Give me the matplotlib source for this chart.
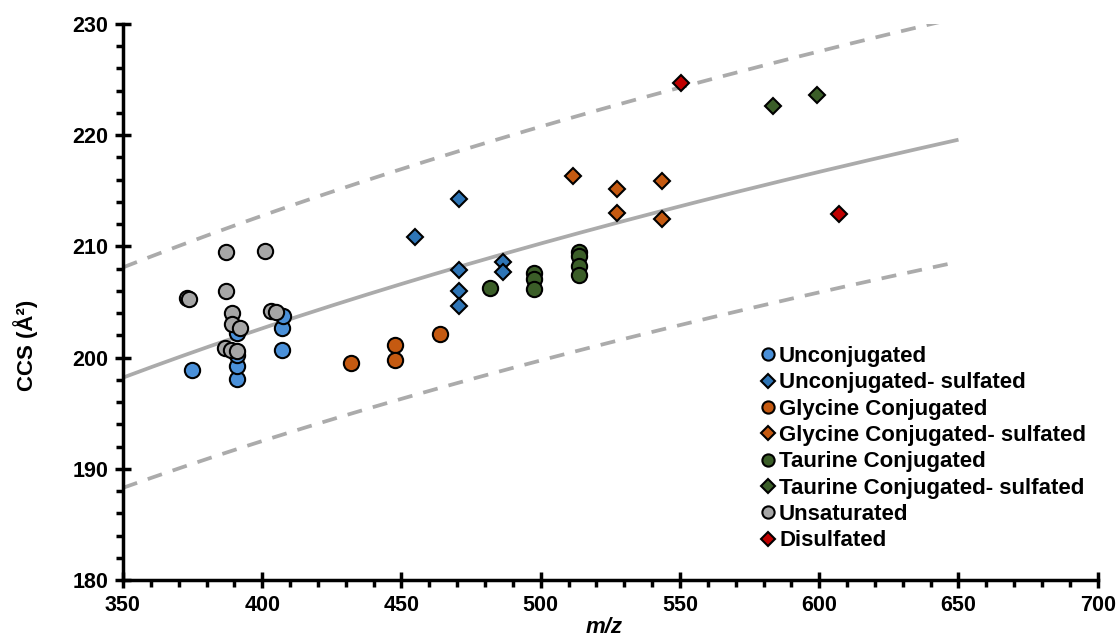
import numpy as np
import matplotlib
matplotlib.use("Agg")
import matplotlib.pyplot as plt
from matplotlib.ticker import MultipleLocator
from matplotlib.font_manager import FontProperties

plt.rcParams['font.family'] = ['Liberation Sans', 'DejaVu Sans']

# ---- data (m/z, CCS) ----
unconj_mz = [374.8, 390.8, 390.8, 390.8, 390.8, 407.1, 407.1, 407.4]
unconj_ccs = [198.9, 198.1, 199.2, 200.2, 202.2, 200.7, 202.7, 203.7]

unconj_s_mz = [470.7, 454.9, 470.7, 470.7, 470.7, 486.6, 486.6]
unconj_s_ccs = [214.3, 210.8, 207.9, 206.0, 204.6, 208.6, 207.7]

gly_mz = [432.0, 447.8, 447.8, 463.9]
gly_ccs = [199.5, 201.1, 199.8, 202.1]

gly_s_mz = [511.6, 527.4, 527.4, 543.5, 543.5]
gly_s_ccs = [216.3, 215.2, 213.0, 215.9, 212.5]

tau_mz = [481.7, 497.6, 497.6, 497.6, 513.7, 513.7, 513.7, 513.7]
tau_ccs = [206.3, 207.6, 207.1, 206.2, 209.5, 209.1, 208.2, 207.4]

tau_s_mz = [583.3, 599.3]
tau_s_ccs = [222.6, 223.6]

unsat_mz = [387.0, 400.9, 373.0, 373.8, 387.0, 389.2, 389.0, 392.0, 386.8, 388.7, 391.0, 403.3, 405.1]
unsat_ccs = [209.5, 209.6, 205.4, 205.3, 206.0, 204.0, 203.0, 202.7, 200.9, 200.7, 200.6, 204.2, 204.1]

disulf_mz = [550.4, 607.1]
disulf_ccs = [224.7, 212.9]

# trend line: CCS = a * (mz/ref)^b, with +/-5% bands
fit_a = 198.2
fit_ref = 350.0
fit_b = 0.1656
band = 0.05
fit_range = (350, 650)

fig = plt.figure(figsize=(11.19, 6.38), dpi=100)
ax = fig.add_axes([0.1099, 0.0909, 0.981 - 0.1099, 0.9624 - 0.0909])

xf = np.linspace(fit_range[0], fit_range[1], 200)
yf = fit_a * (xf / fit_ref) ** fit_b
lc = '#ABABAB'
ax.plot(xf, yf, color=lc, lw=2.7, zorder=1, solid_capstyle='butt')
ax.plot(xf, yf * (1 + band), color=lc, lw=2.7, ls=(0, (4, 3)), zorder=1)
ax.plot(xf, yf * (1 - band), color=lc, lw=2.7, ls=(0, (4, 3)), zorder=1)

series = [
    (unconj_mz, unconj_ccs, 'o', '#4A90D9', 'Unconjugated'),
    (unconj_s_mz, unconj_s_ccs, 'D', '#2E75B6', 'Unconjugated- sulfated'),
    (gly_mz, gly_ccs, 'o', '#C55A11', 'Glycine Conjugated'),
    (gly_s_mz, gly_s_ccs, 'D', '#C55A11', 'Glycine Conjugated- sulfated'),
    (tau_mz, tau_ccs, 'o', '#3B5E28', 'Taurine Conjugated'),
    (tau_s_mz, tau_s_ccs, 'D', '#3B5E28', 'Taurine Conjugated- sulfated'),
    (unsat_mz, unsat_ccs, 'o', '#A6A6A6', 'Unsaturated'),
    (disulf_mz, disulf_ccs, 'D', '#C00000', 'Disulfated'),
]
for mz, ccs, m, c, lab in series:
    ms = 11 if m == 'o' else 8.5
    ax.plot(mz, ccs, ls='none', marker=m, ms=ms, mfc=c, mec='black', mew=1.5,
            label=lab, zorder=3)

ax.set_xlim(350, 700)
ax.set_ylim(180, 230)
ax.xaxis.set_major_locator(MultipleLocator(50))
ax.xaxis.set_minor_locator(MultipleLocator(10))
ax.yaxis.set_major_locator(MultipleLocator(10))
ax.yaxis.set_minor_locator(MultipleLocator(2))

for s in ['top', 'right']:
    ax.spines[s].set_visible(False)
for s in ['left', 'bottom']:
    ax.spines[s].set_linewidth(2.5)

ax.tick_params(which='major', direction='inout', length=11, width=2.5,
               labelsize=15.5, pad=5)
ax.tick_params(which='minor', direction='out', length=5, width=2.5)
for lbl in ax.get_xticklabels() + ax.get_yticklabels():
    lbl.set_fontweight('bold')

xlab_fp = FontProperties(family='Liberation Sans', weight='bold', style='italic', size=16)
ylab_fp = FontProperties(family='Liberation Sans', weight='bold', size=16)
ax.set_xlabel('m/z', fontproperties=xlab_fp)
ax.xaxis.set_label_coords((604 - 123) / 975, (580 - 617) / 556)
ax.set_ylabel('CCS (Å²)', fontproperties=ylab_fp)
ax.yaxis.set_label_coords((38 - 123) / 975, (580 - 345) / 556)

leg = ax.legend(loc='upper left', bbox_to_anchor=((757 - 123) / 975, (580 - 346) / 556),
                frameon=False, prop={'weight': 'bold', 'size': 16},
                handletextpad=0.0, handlelength=1.0, labelspacing=0.24,
                markerscale=0.8, borderaxespad=0.0, borderpad=0.0)

fig.savefig('out.png', dpi=100)
